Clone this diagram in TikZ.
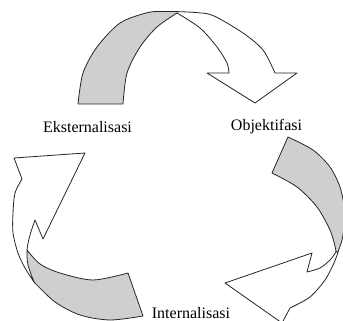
\documentclass[tikz,border=0pt]{standalone}
\usepackage{fontspec}
\setmainfont{Liberation Serif}
\begin{document}
\begin{tikzpicture}[x=1pt,y=-1pt,
  backband/.style={fill=black!19,draw=black!85,line width=0.8pt,line join=round},
  frontband/.style={fill=white,draw=black!85,line width=0.8pt,line join=round},
  outline/.style={draw=black!85,line width=0.8pt,line join=round},
  label/.style={anchor=base,inner sep=0pt,font=\fontsize{16}{19}\selectfont}]
\useasboundingbox (0,0) rectangle (343,321);
\clip (0,0) rectangle (343,321);
% ---------- top arrow (Eksternalisasi -> Objektifasi)
\fill[black!19] plot[smooth] coordinates {(78,104) (83,73) (97,47) (120,23) (148,12.5) (165,11.5) (177,11.6)}
  -- plot[smooth] coordinates {(177,13) (157,27) (140,47) (127,73) (123,104)} -- cycle;
\fill[white] plot[smooth] coordinates {(177,11.6) (195,12.5) (213,15.5) (243,33) (263,50) (275,73)}
  -- (297,73) -- (255,103) -- (207,73) -- (229,73)
  -- plot[smooth] coordinates {(229,73) (227,63) (217,47) (200,28) (177,13)} -- cycle;
\path[outline] plot[smooth] coordinates {(78,104) (83,73) (97,47) (120,23) (148,12.5) (165,11.5) (177,11.6) (195,12.5) (213,15.5) (243,33) (263,50) (275,73)}
  -- (297,73) -- (255,103) -- (207,73) -- (229,73)
  -- plot[smooth] coordinates {(229,73) (227,63) (217,47) (200,28) (177,13)};
\path[outline] plot[smooth] coordinates {(177,13) (157,27) (140,47) (127,73) (123,104)} -- (78,104);
% ---------- right arrow (Objektifasi -> Internalisasi)
\path[backband] plot[smooth] coordinates {(288,137) (313,150) (330,167) (340,187) (345,210) (347,228)}
  -- (350,228) -- (344,228)
  -- plot[smooth] coordinates {(344,228) (342,240) (338,252)} -- (336,252)
  -- plot[smooth] coordinates {(336,252) (335,246) (330,230) (317,207) (297,187) (272,173)} -- cycle;
\path[frontband] (312,253) -- (225,283) -- (282,323) -- (290,308)
  -- plot[smooth] coordinates {(290,308) (310,297) (325,280) (334,263) (338,252)}
  -- plot[smooth] coordinates {(336,252) (330,260) (320,268) (307,272)} -- cycle;
% ---------- left arrow (Internalisasi -> Eksternalisasi)
\path[backband] plot[smooth] coordinates {(128,273) (93,280) (60,273) (40,264) (27,250)}
  -- (26,265) -- (34,282)
  -- plot[smooth] coordinates {(34,282) (55,302) (80,315) (110,320) (143,316)} -- cycle;
\path[frontband] (14,158) -- (85,153) -- (43,239) -- (35,220)
  -- plot[smooth] coordinates {(35,220) (30,235) (27,250) (28,265) (34,282)}
  -- plot[smooth] coordinates {(34,282) (25,268) (18,253) (13,233) (13,213) (15,193) (22,179)} -- cycle;
% ---------- labels
\node[label] (eks) at (87.5,132) {Eksternalisasi};
\node[label] (obj) at (266.5,131) {Objektifasi};
\node[label] (int) at (191,318) {Internalisasi};
\end{tikzpicture}
\end{document}
